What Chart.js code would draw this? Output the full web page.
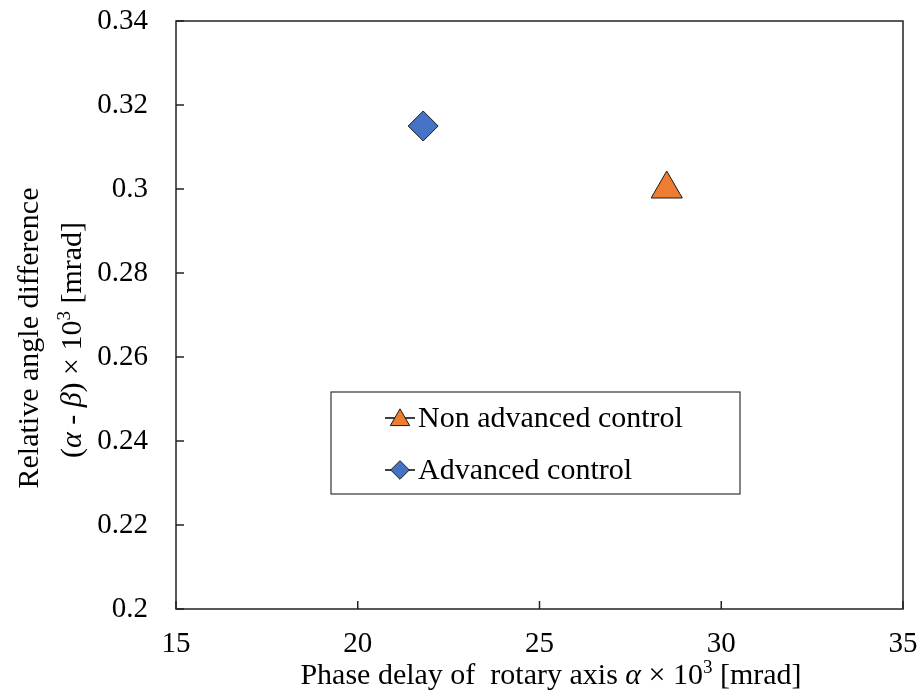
<!DOCTYPE html>
<html>
<head>
<meta charset="utf-8">
<script src="https://cdn.jsdelivr.net/npm/chart.js@4.4.0/dist/chart.umd.min.js"></script>
<style>
    html, body { margin: 0; padding: 0; background: #fff; }
    #wrap { width: 922px; height: 695px; }
</style>
</head>
<body>
<div id="wrap"><canvas id="grafico" width="922" height="695"></canvas></div>
<script>
// Séries e valores
const nomesSeries = ['Non advanced control', 'Advanced control'];
const atrasoFase = [28.5, 21.8];          // eixo x (α × 10³ mrad)
const diferencaAngulo = [0.300, 0.315];   // eixo y ((α - β) × 10³ mrad)
const ticksX = [15, 20, 25, 30, 35];
const ticksY = [0.2, 0.22, 0.24, 0.26, 0.28, 0.3, 0.32, 0.34];

const FONTE = '"Liberation Serif", "Times New Roman", serif';
const estilos = [
    { pointStyle: 'triangle', radius: 18, cor: '#ED7D31' },
    { pointStyle: 'rectRot', radius: 15, cor: '#4472C4' }
];

// Desenha texto com partes em itálico e sobrescrito, centrado em (cx, cy)
function desenharTexto(ctx, partes, cx, cy, tam) {
    const fonteDe = p => (p.i ? 'italic ' : '') + (p.sup ? Math.round(tam * 0.62) : tam) + 'px ' + FONTE;
    let total = 0;
    partes.forEach(p => { ctx.font = fonteDe(p); total += ctx.measureText(p.t).width; });
    let x = cx - total / 2;
    ctx.textBaseline = 'alphabetic';
    ctx.textAlign = 'left';
    ctx.fillStyle = '#000';
    partes.forEach(p => {
        ctx.font = fonteDe(p);
        ctx.fillText(p.t, x, cy + tam * 0.35 - (p.sup ? tam * 0.36 : 0));
        x += ctx.measureText(p.t).width;
    });
}

// Tira o espaço extra que o Chart.js reserva para os rótulos das pontas
function semSobra(s, tamanho) {
    if (s.isHorizontal()) { s.height = tamanho; } else { s.width = tamanho; }
    s.paddingTop = 0; s.paddingBottom = 0; s.paddingLeft = 0; s.paddingRight = 0;
}

const moldura = {
    id: 'moldura',
    beforeDatasetsDraw(chart) {
        const { ctx, chartArea: a, scales } = chart;
        ctx.save();
        ctx.strokeStyle = '#222';
        ctx.lineWidth = 1.5;
        ctx.strokeRect(a.left, a.top, a.right - a.left, a.bottom - a.top);
        // marcas dos ticks para dentro
        ctx.beginPath();
        scales.x.ticks.forEach(t => {
            const px = scales.x.getPixelForValue(t.value);
            ctx.moveTo(px, a.bottom);
            ctx.lineTo(px, a.bottom - 8);
        });
        scales.y.ticks.forEach(t => {
            const py = scales.y.getPixelForValue(t.value);
            ctx.moveTo(a.left, py);
            ctx.lineTo(a.left + 8, py);
        });
        ctx.stroke();
        ctx.restore();
    },
    afterDraw(chart) {
        const { ctx } = chart;
        ctx.save();
        // títulos dos eixos
        desenharTexto(ctx, [
            { t: 'Phase delay of  rotary axis ' }, { t: 'α', i: true },
            { t: ' × 10' }, { t: '3', sup: true }, { t: ' [mrad]' }
        ], 551, 673, 30);
        ctx.save();
        ctx.translate(27, 338);
        ctx.rotate(-Math.PI / 2);
        desenharTexto(ctx, [{ t: 'Relative angle difference' }], 0, 0, 30);
        ctx.restore();
        ctx.save();
        ctx.translate(70, 340);
        ctx.rotate(-Math.PI / 2);
        desenharTexto(ctx, [
            { t: '(' }, { t: 'α', i: true }, { t: ' - ' }, { t: 'β', i: true },
            { t: ') × 10' }, { t: '3', sup: true }, { t: ' [mrad]' }
        ], 0, 0, 30);
        ctx.restore();

        // legenda
        ctx.fillStyle = '#fff';
        ctx.fillRect(331, 392, 409, 102);
        ctx.strokeStyle = '#333';
        ctx.lineWidth = 1.2;
        ctx.strokeRect(331, 392, 409, 102);
        chart.data.datasets.forEach((ds, i) => {
            const y = 418 + i * 52;
            ctx.strokeStyle = '#000';
            ctx.lineWidth = 1.5;
            ctx.beginPath();
            ctx.moveTo(385, y);
            ctx.lineTo(415, y);
            ctx.stroke();
            ctx.fillStyle = ds.backgroundColor;
            ctx.strokeStyle = ds.borderColor;
            ctx.lineWidth = 1;
            Chart.helpers.drawPoint(ctx, {
                pointStyle: ds.pointStyle, radius: ds.pointRadius * 0.62, borderWidth: 1
            }, 400, y + (ds.pointStyle === 'triangle' ? 2 : 0));
            ctx.fillStyle = '#000';
            ctx.font = '30px ' + FONTE;
            ctx.textAlign = 'left';
            ctx.textBaseline = 'middle';
            ctx.fillText(ds.label, 418, y + 1);
        });
        ctx.restore();
    }
};

const chart = new Chart(document.getElementById('grafico').getContext('2d'), {
    type: 'scatter',
    data: {
        datasets: nomesSeries.map((nome, i) => ({
            label: nome,
            data: [{ x: atrasoFase[i], y: diferencaAngulo[i] }],
            pointStyle: estilos[i].pointStyle,
            pointRadius: estilos[i].radius,
            pointHoverRadius: estilos[i].radius,
            backgroundColor: estilos[i].cor,
            borderColor: '#1a1a1a',
            borderWidth: 1
        }))
    },
    options: {
        responsive: false,
        devicePixelRatio: 1,
        animation: false,
        layout: { padding: { left: 0, top: 21, right: 19, bottom: 0 } },
        plugins: {
            legend: { display: false },
            tooltip: { enabled: false }
        },
        scales: {
            x: {
                type: 'linear',
                min: 15,
                max: 35,
                afterBuildTicks: s => { s.ticks = ticksX.map(v => ({ value: v })); },
                afterFit: s => semSobra(s, 86),
                grid: { display: false, drawTicks: false },
                border: { display: false },
                ticks: {
                    color: '#000',
                    padding: 18,
                    font: { family: FONTE, size: 29 }
                }
            },
            y: {
                type: 'linear',
                min: 0.2,
                max: 0.34,
                afterBuildTicks: s => { s.ticks = ticksY.map(v => ({ value: v })); },
                afterFit: s => semSobra(s, 176),
                grid: { display: false, drawTicks: false },
                border: { display: false },
                ticks: {
                    color: '#000',
                    padding: 28,
                    font: { family: FONTE, size: 29 },
                    callback: v => String(+v.toFixed(2))
                }
            }
        }
    },
    plugins: [moldura]
});
</script>
</body>
</html>
